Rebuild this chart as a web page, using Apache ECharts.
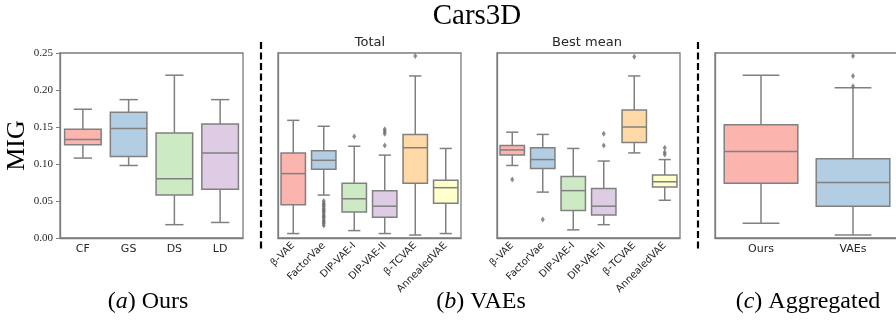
<!DOCTYPE html>
<html>
<head>
<meta charset="utf-8">
<script src="https://cdn.jsdelivr.net/npm/echarts@6/dist/echarts.min.js"></script>
<style>
  html, body { margin: 0; background: #fff; }
  #chart { width: 896px; height: 320px; }
</style>
</head>
<body>
<div id="chart"></div>
<script>
// box stats are [low whisker, Q1, median, Q3, high whisker]
const oursCats = ['CF', 'GS', 'DS', 'LD']
const oursBoxes = [
  [0.108, 0.126, 0.133, 0.147, 0.174],
  [0.098, 0.110, 0.148, 0.170, 0.187],
  [0.018, 0.058, 0.080, 0.142, 0.220],
  [0.021, 0.066, 0.115, 0.154, 0.187]
]

const vaeCats = ['β-VAE', 'FactorVae', 'DIP-VAE-I', 'DIP-VAE-II', 'β-TCVAE', 'AnnealedVAE']
const totalBoxes = [
  [0.006, 0.045, 0.087, 0.115, 0.159],
  [0.058, 0.093, 0.105, 0.118, 0.151],
  [0.010, 0.035, 0.053, 0.074, 0.124],
  [0.006, 0.028, 0.043, 0.064, 0.112],
  [0.004, 0.074, 0.122, 0.140, 0.219],
  [0.006, 0.047, 0.068, 0.078, 0.121]
]
// outliers: [category index, value]
const totalOutliers = [
  [1, 0.050], [1, 0.047], [1, 0.045], [1, 0.043], [1, 0.040], [1, 0.038],
  [1, 0.036], [1, 0.034], [1, 0.031], [1, 0.029], [1, 0.027], [1, 0.024],
  [1, 0.022], [1, 0.020], [1, 0.017],
  [2, 0.137],
  [3, 0.147], [3, 0.144], [3, 0.141], [3, 0.125],
  [4, 0.246]
]

const bestBoxes = [
  [0.098, 0.112, 0.119, 0.125, 0.143],
  [0.062, 0.094, 0.106, 0.122, 0.140],
  [0.011, 0.037, 0.064, 0.083, 0.121],
  [0.018, 0.031, 0.043, 0.067, 0.104],
  [0.115, 0.129, 0.150, 0.173, 0.219],
  [0.051, 0.069, 0.076, 0.085, 0.106]
]
const bestOutliers = [
  [0, 0.079],
  [1, 0.025],
  [3, 0.141], [3, 0.125],
  [4, 0.245],
  [5, 0.122], [5, 0.116], [5, 0.113]
]

const aggCats = ['Ours', 'VAEs']
const aggBoxes = [
  [0.020, 0.074, 0.117, 0.153, 0.220],
  [0.004, 0.043, 0.075, 0.107, 0.203]
]
const aggOutliers = [[1, 0.246], [1, 0.219], [1, 0.205]]

const pastel = ['#fbb4ae', '#b3cde3', '#ccebc5', '#decbe4', '#fed9a6', '#ffffcc']
const edge = '#808080'
const frame = '#7c7c7c'
const serif = '"Liberation Serif", "DejaVu Serif", serif'
const sans = '"DejaVu Sans", sans-serif'

const chart = echarts.init(document.getElementById('chart'))

// the last panel runs past the right edge of the picture, as in the original
const panels = [
  { cats: oursCats, boxes: oursBoxes, outliers: [], left: 60, width: 183, rotate: 0, labelSize: 11 },
  { cats: vaeCats, boxes: totalBoxes, outliers: totalOutliers, left: 278, width: 183, rotate: 45, labelSize: 10 },
  { cats: vaeCats, boxes: bestBoxes, outliers: bestOutliers, left: 497, width: 183, rotate: 45, labelSize: 10 },
  { cats: aggCats, boxes: aggBoxes, outliers: aggOutliers, left: 715, width: 184, rotate: 0, labelSize: 11 }
]

function boxItem(params, api) {
  const i = api.value(0)
  const w = api.size([1, 0])[0] * 0.8
  const low = api.coord([i, api.value(1)])
  const q1 = api.coord([i, api.value(2)])
  const med = api.coord([i, api.value(3)])
  const q3 = api.coord([i, api.value(4)])
  const high = api.coord([i, api.value(5)])
  const x = low[0]
  const seg = (x1, y1, x2, y2) => ({
    type: 'line',
    shape: { x1, y1, x2, y2 },
    style: { stroke: edge, lineWidth: 1.5 }
  })
  return {
    type: 'group',
    children: [
      seg(x, high[1], x, q3[1]),
      seg(x, q1[1], x, low[1]),
      seg(x - w / 4, high[1], x + w / 4, high[1]),
      seg(x - w / 4, low[1], x + w / 4, low[1]),
      {
        type: 'rect',
        shape: { x: x - w / 2, y: q3[1], width: w, height: q1[1] - q3[1] },
        style: { fill: pastel[i], stroke: edge, lineWidth: 1.5 }
      },
      seg(x - w / 2, med[1], x + w / 2, med[1])
    ]
  }
}

const grid = panels.map(p => ({
  left: p.left, width: p.width, top: 53, height: 185,
  outerBoundsMode: 'none',
  show: true, borderColor: frame, borderWidth: 1.3, backgroundColor: 'transparent'
}))

const xAxis = panels.map((p, k) => ({
  type: 'category',
  gridIndex: k,
  data: p.cats,
  axisLine: { lineStyle: { color: frame, width: 1.3 } },
  axisTick: { alignWithLabel: true, length: 4, lineStyle: { color: frame } },
  axisLabel: {
    rotate: p.rotate,
    margin: 6,
    interval: 0,
    color: '#262626',
    fontFamily: sans,
    fontSize: p.labelSize
  }
}))

const yAxis = panels.map((p, k) => ({
  type: 'value',
  gridIndex: k,
  min: 0,
  max: 0.25,
  interval: 0.05,
  splitLine: { show: false },
  axisLine: { show: true, lineStyle: { color: frame, width: 1.3 } },
  axisTick: { show: k === 0, length: 4, lineStyle: { color: frame } },
  axisLabel: {
    show: k === 0,
    margin: 7,
    color: '#262626',
    fontFamily: serif,
    fontSize: 11,
    formatter: v => v.toFixed(2)
  },
  name: k === 0 ? 'MIG' : '',
  nameLocation: 'middle',
  nameRotate: 90,
  nameGap: 30,
  nameTextStyle: { fontFamily: serif, fontSize: 26, color: '#000' }
}))

const series = []
panels.forEach((p, k) => {
  series.push({
    type: 'custom',
    xAxisIndex: k,
    yAxisIndex: k,
    renderItem: boxItem,
    encode: { x: 0, y: [1, 2, 3, 4, 5] },
    data: p.boxes.map((b, i) => [i].concat(b)),
    silent: true
  })
  if (p.outliers.length) {
    series.push({
      type: 'scatter',
      xAxisIndex: k,
      yAxisIndex: k,
      symbol: 'diamond',
      symbolSize: [4, 6],
      itemStyle: { color: '#6e6e6e' },
      data: p.outliers,
      silent: true,
      z: 3
    })
  }
})

const textEl = (x, y, text, font, extra) => ({
  type: 'text', x, y, silent: true,
  style: Object.assign({ text, font, fill: '#000', align: 'center', verticalAlign: 'middle' }, extra || {})
})

const caption = (x, letter, word) => ({
  type: 'text', x, y: 302, silent: true,
  style: {
    text: '(' + '{i|' + letter + '})' + word,
    fontFamily: serif, fontSize: 24, fill: '#000',
    align: 'center', verticalAlign: 'middle',
    rich: { i: { fontFamily: serif, fontSize: 24, fontStyle: 'italic' } }
  }
})

const dashed = x => ({
  type: 'line', silent: true,
  shape: { x1: x, y1: 42, x2: x, y2: 250 },
  style: { stroke: '#000', lineWidth: 2.2, lineDash: [7, 3.5] }
})

chart.setOption({
  animation: false,
  grid,
  xAxis,
  yAxis,
  series,
  graphic: [
    textEl(477, 16, 'Cars3D', '29px ' + serif),
    textEl(370, 43, 'Total', '13px ' + sans, { fill: '#262626' }),
    textEl(587, 43, 'Best mean', '13px ' + sans, { fill: '#262626' }),
    dashed(261),
    dashed(698),
    caption(148, 'a', ' Ours'),
    caption(481, 'b', ' VAEs'),
    caption(808, 'c', ' Aggregated')
  ]
})
</script>
</body>
</html>
